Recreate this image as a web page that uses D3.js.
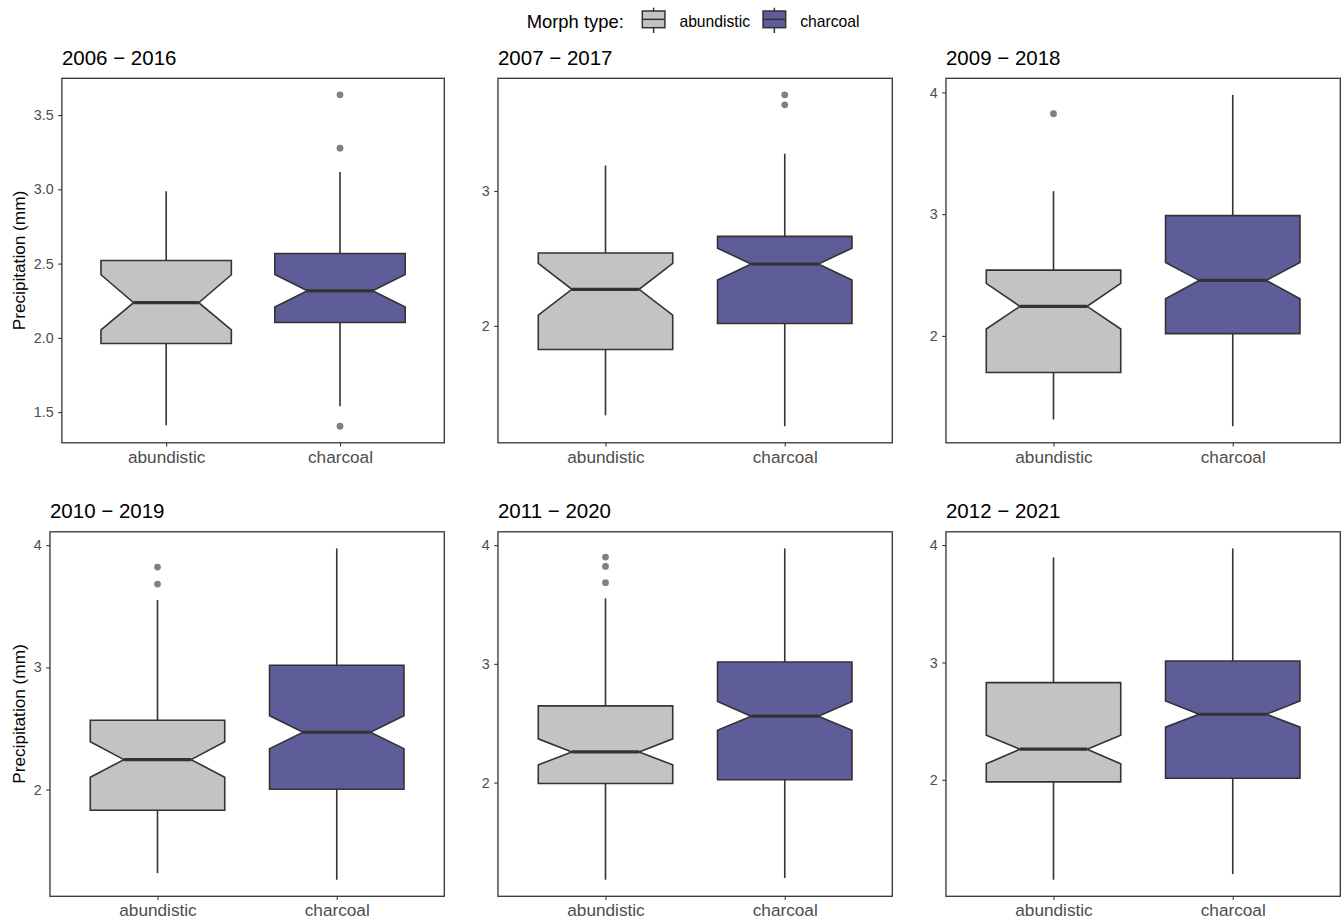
<!DOCTYPE html>
<html>
<head>
<meta charset="utf-8">
<script src="https://cdn.jsdelivr.net/npm/d3@7"></script>
<style>
  html, body { margin: 0; padding: 0; background: #ffffff; }
  svg { display: block; font-family: "Liberation Sans", Arial, Helvetica, sans-serif; }
</style>
</head>
<body>
<svg id="chart" width="1344" height="921"></svg>
<script>
// Ten-year precipitation windows, one panel each
const periods = ["2006 − 2016", "2007 − 2017", "2009 − 2018", "2010 − 2019", "2011 − 2020", "2012 − 2021"];
const morphs = ["abundistic", "charcoal"];
const morphFill = ["#c3c3c3", "#5e5d99"];

// Box statistics per panel: [abundistic, charcoal]
const lowerWhisker = [[1.411, 1.539], [1.337, 1.256], [1.313, 1.258], [1.316, 1.262], [1.181, 1.195], [1.149, 1.197]];
const lowerHinge   = [[1.962, 2.103], [1.825, 2.017], [1.700, 2.019], [1.831, 2.003], [1.992, 2.023], [1.983, 2.014]];
const notchLower   = [[2.054, 2.208], [2.079, 2.340], [2.057, 2.305], [2.101, 2.335], [2.149, 2.441], [2.136, 2.449]];
const medians      = [[2.237, 2.317], [2.271, 2.458], [2.243, 2.456], [2.245, 2.469], [2.258, 2.559], [2.261, 2.559]];
const notchUpper   = [[2.425, 2.427], [2.463, 2.576], [2.431, 2.603], [2.392, 2.605], [2.368, 2.682], [2.380, 2.672]];
const upperHinge   = [[2.521, 2.568], [2.540, 2.663], [2.540, 2.988], [2.567, 3.017], [2.646, 3.016], [2.828, 3.013]];
const upperWhisker = [[2.987, 3.116], [3.188, 3.276], [3.189, 3.980], [3.551, 3.974], [3.552, 3.973], [3.895, 3.972]];
const outliers = [
  [[], [3.636, 3.277, 1.405]],
  [[], [3.712, 3.638]],
  [[3.825], []],
  [[3.821, 3.682], []],
  [[3.900, 3.821, 3.684], []],
  [[], []]
];

// Axis breaks and their labels per panel
const yTicks = [[1.5, 2.0, 2.5, 3.0, 3.5], [2, 3], [2, 3, 4], [2, 3, 4], [2, 3, 4], [2, 3, 4]];
const yTickLabels = [["1.5", "2.0", "2.5", "3.0", "3.5"], ["2", "3"], ["2", "3", "4"], ["2", "3", "4"], ["2", "3", "4"], ["2", "3", "4"]];

const yTitle = "Precipitation (mm)";
const legendTitle = "Morph type:";

const svg = d3.select("#chart");

const plotW = 448, rowH = 453.5, rowTop0 = 38;
const panelTopOff = 40.3, panelH = 364.5, rightMargin = 3.7;
const leftFixed = 33.2;        // space reserved for the axis title in every plot
const tickLen = 3.7, tickPad = 4.5;
const inkDark = "#333333", tickText = "#4d4d4d";

periods.forEach((period, p) => {
  const col = p % 3, row = Math.floor(p / 3);
  const plotX = col * plotW;
  const rowTop = rowTop0 + row * rowH;
  const top = rowTop + panelTopOff, bottom = top + panelH;

  // data range including outliers, padded 5% on each side
  const vals = [].concat(lowerWhisker[p], upperWhisker[p], outliers[p][0], outliers[p][1]);
  const lo = d3.min(vals), hi = d3.max(vals), pad = (hi - lo) * 0.05;
  const y = d3.scaleLinear().domain([lo - pad, hi + pad]).range([bottom, top]);

  const g = svg.append("g");

  // y axis first so its label width sets the panel's left edge
  const yAxisG = g.append("g");
  const yAxis = d3.axisLeft(y)
    .tickValues(yTicks[p])
    .tickFormat((d, i) => yTickLabels[p][i])
    .tickSize(tickLen).tickPadding(tickPad);
  yAxisG.call(yAxis);
  yAxisG.select(".domain").remove();
  yAxisG.selectAll(".tick line").attr("stroke", inkDark).attr("stroke-width", 1.1);
  yAxisG.selectAll(".tick text")
    .attr("fill", tickText).style("font-size", "14.3px")
    .style("font-family", "'Liberation Sans', Arial, sans-serif");
  let maxW = 0;
  yAxisG.selectAll(".tick text").each(function () { maxW = Math.max(maxW, this.getComputedTextLength()); });

  const left = plotX + leftFixed + maxW + tickLen + tickPad + 0.6;
  const right = plotX + plotW - rightMargin;
  yAxisG.attr("transform", `translate(${left},0)`);

  const x = d3.scalePoint().domain(morphs).range([left, right]).padding(0.6);
  const step = x.step();
  const half = 0.375 * step, notchHalf = half * 0.5;

  // whiskers
  morphs.forEach((m, i) => {
    const cx = x(m);
    g.append("line").attr("x1", cx).attr("x2", cx)
      .attr("y1", y(upperHinge[p][i])).attr("y2", y(upperWhisker[p][i]))
      .attr("stroke", inkDark).attr("stroke-width", 1.6);
    g.append("line").attr("x1", cx).attr("x2", cx)
      .attr("y1", y(lowerHinge[p][i])).attr("y2", y(lowerWhisker[p][i]))
      .attr("stroke", inkDark).attr("stroke-width", 1.6);
  });

  // notched boxes
  morphs.forEach((m, i) => {
    const cx = x(m);
    const x0 = cx - half, x1 = cx + half;
    const pts = [
      [x0, y(upperHinge[p][i])], [x1, y(upperHinge[p][i])],
      [x1, y(notchUpper[p][i])], [cx + notchHalf, y(medians[p][i])],
      [x1, y(notchLower[p][i])], [x1, y(lowerHinge[p][i])],
      [x0, y(lowerHinge[p][i])], [x0, y(notchLower[p][i])],
      [cx - notchHalf, y(medians[p][i])], [x0, y(notchUpper[p][i])]
    ];
    g.append("path")
      .attr("d", d3.line()(pts) + "Z")
      .attr("fill", morphFill[i])
      .attr("stroke", inkDark).attr("stroke-width", 1.6)
      .attr("stroke-linejoin", "miter");
    g.append("line")
      .attr("x1", cx - notchHalf).attr("x2", cx + notchHalf)
      .attr("y1", y(medians[p][i])).attr("y2", y(medians[p][i]))
      .attr("stroke", inkDark).attr("stroke-width", 3.2);
  });

  // outlying points
  morphs.forEach((m, i) => {
    g.selectAll(null).data(outliers[p][i]).enter().append("circle")
      .attr("cx", x(m)).attr("cy", d => y(d)).attr("r", 3.4)
      .attr("fill", "#808080");
  });

  // panel border
  g.append("rect")
    .attr("x", left).attr("y", top).attr("width", right - left).attr("height", panelH)
    .attr("fill", "none").attr("stroke", inkDark).attr("stroke-width", 1.3);

  // x axis
  const xAxisG = g.append("g").attr("transform", `translate(0,${bottom})`);
  xAxisG.call(d3.axisBottom(x).tickSize(tickLen).tickPadding(4.2));
  xAxisG.select(".domain").remove();
  xAxisG.selectAll(".tick line").attr("stroke", inkDark).attr("stroke-width", 1.1);
  xAxisG.selectAll(".tick text")
    .attr("fill", tickText).style("font-size", "17.2px")
    .style("font-family", "'Liberation Sans', Arial, sans-serif");

  // panel title
  g.append("text")
    .attr("x", left).attr("y", top - 13.5)
    .style("font-size", "20.5px").attr("fill", "#000")
    .text(period);

  // y axis title on the first column
  if (col === 0) {
    g.append("text")
      .attr("transform", `translate(${plotX + 25},${(top + bottom) / 2}) rotate(-90)`)
      .attr("text-anchor", "middle")
      .style("font-size", "17.2px").attr("fill", "#000")
      .text(yTitle);
  }
});

// legend across the top
const leg = svg.append("g");
const legTitle = leg.append("text")
  .attr("x", 526.7).attr("y", 28)
  .style("font-size", "18.4px").attr("fill", "#000")
  .text(legendTitle);
let lx = 526.7 + legTitle.node().getComputedTextLength() + 18.5;
morphs.forEach((m, i) => {
  const kx = lx, kw = 22.6, ky = 11, kh = 16.7;
  leg.append("line").attr("x1", kx + kw / 2).attr("x2", kx + kw / 2)
    .attr("y1", 7.7).attr("y2", 33).attr("stroke", inkDark).attr("stroke-width", 1.5);
  leg.append("rect").attr("x", kx).attr("y", ky).attr("width", kw).attr("height", kh)
    .attr("fill", morphFill[i]).attr("stroke", inkDark).attr("stroke-width", 1.5);
  leg.append("line").attr("x1", kx).attr("x2", kx + kw)
    .attr("y1", ky + kh / 2).attr("y2", ky + kh / 2)
    .attr("stroke", inkDark).attr("stroke-width", 1.5);
  const t = leg.append("text")
    .attr("x", kx + kw + 14.5).attr("y", 26.5)
    .style("font-size", "15.7px").attr("fill", "#000")
    .text(m);
  lx = kx + kw + 14.5 + t.node().getComputedTextLength() + 13;
});
</script>
</body>
</html>
